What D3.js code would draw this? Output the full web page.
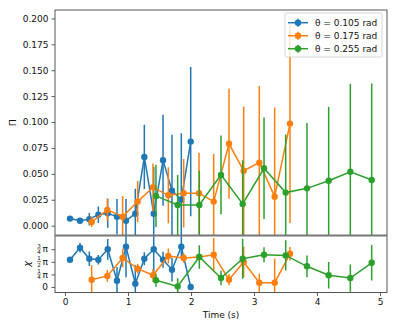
<!DOCTYPE html>
<html>
<head>
<meta charset="utf-8">
<script src="https://cdn.jsdelivr.net/npm/d3@7"></script>
<style>
  body { margin: 0; background: #fff; }
  svg text { font-family: "DejaVu Sans", sans-serif; }
</style>
</head>
<body>
<div id="chart"></div>
<script>
const labels = ["θ = 0.105 rad", "θ = 0.175 rad", "θ = 0.255 rad"];
const colors = ["#1f77b4", "#ff7f0e", "#2ca02c"];

// theta = 0.105
const timeA = [0.079, 0.238, 0.386, 0.529, 0.678, 0.825, 0.968, 1.116, 1.259, 1.408, 1.556, 1.698, 1.846, 1.995];
const piA = [0.0068, 0.0048, 0.0062, 0.0106, 0.012, 0.0087, 0.0048, 0.0116, 0.0663, 0.0116, 0.0631, 0.0338, 0.0251, 0.0811];
const piErrA = [0.001, 0.001, 0.006, 0.008, 0.014, 0.017, 0.021, 0.024, 0.031, 0.045, 0.044, 0.054, 0.064, 0.072];
const chiA = [1.70, 2.45, 1.76, 1.70, 2.35, 0.39, 2.51, 0.21, 1.76, 2.35, 1.70, 1.08, 2.51, 0.0];
const chiErrA = [0.05, 0.3, 0.45, 0.3, 0.65, 0.85, 1.9, 1.15, 0.4, 1.45, 0.5, 0.74, 0.68, 0.05];

// theta = 0.175
const timeB = [0.423, 0.672, 0.915, 1.153, 1.397, 1.640, 1.884, 2.127, 2.36, 2.603, 2.836, 3.084, 3.328, 3.571];
const piB = [0.0036, 0.0152, 0.0087, 0.0232, 0.037, 0.0293, 0.0313, 0.0313, 0.0232, 0.079, 0.053, 0.0608, 0.028, 0.0985];
const piErrB = [0.005, 0.011, 0.02, 0.02, 0.023, 0.027, 0.033, 0.039, 0.046, 0.053, 0.062, 0.074, 0.086, 0.096];
const chiB = [0.455, 0.69, 1.81, 1.14, 0.73, 1.93, 1.81, 1.87, 2.01, 0.455, 1.56, 0.27, 0.27, 2.07];
const chiErrB = [0.9, 0.37, 0.58, 0.3, 0.4, 0.47, 0.3, 0.15, 1.04, 0.35, 0.95, 0.56, 1.5, 0.42];

// theta = 0.255
const timeC = [1.444, 1.788, 2.132, 2.476, 2.82, 3.159, 3.503, 3.841, 4.185, 4.529, 4.868];
const piC = [0.0287, 0.02, 0.02, 0.049, 0.021, 0.0554, 0.0319, 0.036, 0.0434, 0.052, 0.0441];
const piErrC = [0.03, 0.029, 0.033, 0.038, 0.042, 0.049, 0.056, 0.063, 0.071, 0.085, 0.093];
const chiC = [0.42, 0.04, 1.87, 0.56, 1.76, 2.01, 1.97, 1.29, 0.73, 0.56, 1.51];
const chiErrC = [0.4, 0.5, 0.73, 0.45, 1.25, 0.47, 0.94, 0.68, 0.83, 0.85, 1.11];

const xTicks = [0, 1, 2, 3, 4, 5];
const piTicks = [0, 0.025, 0.05, 0.075, 0.1, 0.125, 0.15, 0.175, 0.2];
const chiTicks = [
  { v: 0, num: null, den: null },
  { v: Math.PI / 4, num: "1", den: "4" },
  { v: Math.PI / 2, num: "1", den: "2" },
  { v: 3 * Math.PI / 4, num: "3", den: "4" }
];

const series = [
  { t: timeA, p: piA, pe: piErrA, c: chiA, ce: chiErrA },
  { t: timeB, p: piB, pe: piErrB, c: chiB, ce: chiErrB },
  { t: timeC, p: piC, pe: piErrC, c: chiC, ce: chiErrC }
];

const W = 397, H = 331;
const mLeft = 55, mRight = 387, mTop = 10, mMid = 235.5, mBottom = 292.5;

const svg = d3.select("#chart").append("svg")
  .attr("width", W).attr("height", H);

const x = d3.scaleLinear().domain([-0.159, 5.111]).range([mLeft, mRight]);
const yTop = d3.scaleLinear().domain([-0.0095, 0.2081]).range([mMid, mTop]);
const yBot = d3.scaleLinear().domain([-0.343, 3.211]).range([mBottom, mMid]);

const defs = svg.append("defs");
defs.append("clipPath").attr("id", "clipTop").append("rect")
  .attr("x", mLeft).attr("y", mTop).attr("width", mRight - mLeft).attr("height", mMid - mTop);
defs.append("clipPath").attr("id", "clipBot").append("rect")
  .attr("x", mLeft).attr("y", mMid).attr("width", mRight - mLeft).attr("height", mBottom - mMid);

function drawPanel(g, y, key, errKey) {
  series.forEach((s, i) => {
    const pts = s.t.map((t, j) => ({ t: t, v: s[key][j], e: s[errKey][j] }));
    const col = colors[i];
    g.selectAll(null).data(pts).join("line")
      .attr("x1", d => x(d.t)).attr("x2", d => x(d.t))
      .attr("y1", d => y(d.v - d.e)).attr("y2", d => y(d.v + d.e))
      .attr("stroke", col).attr("stroke-width", 1.5);
    g.append("path").datum(pts)
      .attr("d", d3.line().x(d => x(d.t)).y(d => y(d.v)))
      .attr("fill", "none").attr("stroke", col).attr("stroke-width", 1.5);
    g.selectAll(null).data(pts).join("circle")
      .attr("cx", d => x(d.t)).attr("cy", d => y(d.v))
      .attr("r", 3.2).attr("fill", col);
  });
}

const gTop = svg.append("g").attr("clip-path", "url(#clipTop)");
drawPanel(gTop, yTop, "p", "pe");
const gBot = svg.append("g").attr("clip-path", "url(#clipBot)");
drawPanel(gBot, yBot, "c", "ce");

// axes
const axTop = svg.append("g").attr("transform", `translate(${mLeft},0)`)
  .call(d3.axisLeft(yTop).tickValues(piTicks).tickFormat(d3.format(".3f")).tickSize(3.5).tickPadding(3));
const axBot = svg.append("g").attr("transform", `translate(${mLeft},0)`)
  .call(d3.axisLeft(yBot).tickValues(chiTicks.map(d => d.v)).tickFormat("").tickSize(3.5));
const axX = svg.append("g").attr("transform", `translate(0,${mBottom})`)
  .call(d3.axisBottom(x).tickValues(xTicks).tickFormat(d3.format("d")).tickSize(3.5).tickPadding(3));

[axTop, axBot, axX].forEach(a => {
  a.select(".domain").remove();
  a.selectAll(".tick line").attr("stroke", "#333").attr("stroke-width", 0.8);
  a.selectAll(".tick text").attr("font-size", 9).attr("fill", "#111")
    .attr("font-family", "DejaVu Sans, sans-serif");
});

// fraction labels on chi axis
const fr = svg.append("g").attr("fill", "#111");
chiTicks.forEach(tk => {
  const yy = yBot(tk.v);
  if (tk.num === null) {
    fr.append("text").attr("x", 48).attr("y", yy + 3.2)
      .attr("text-anchor", "end").attr("font-size", 9).text("0");
  } else {
    fr.append("text").attr("x", 48).attr("y", yy + 3.2)
      .attr("text-anchor", "end").attr("font-size", 9).text("π");
    fr.append("text").attr("x", 39).attr("y", yy - 1.5)
      .attr("text-anchor", "middle").attr("font-size", 5.5).text(tk.num);
    fr.append("text").attr("x", 39).attr("y", yy + 5)
      .attr("text-anchor", "middle").attr("font-size", 5.5).text(tk.den);
    fr.append("line").attr("x1", 37).attr("x2", 41)
      .attr("y1", yy - 0.3).attr("y2", yy - 0.3)
      .attr("stroke", "#111").attr("stroke-width", 0.5);
  }
});

// frames
svg.append("rect").attr("x", mLeft).attr("y", mTop)
  .attr("width", mRight - mLeft).attr("height", mBottom - mTop)
  .attr("fill", "none").attr("stroke", "#444").attr("stroke-width", 0.9);
svg.append("line").attr("x1", mLeft).attr("x2", mRight)
  .attr("y1", mMid).attr("y2", mMid)
  .attr("stroke", "#777").attr("stroke-width", 2);

// axis labels
svg.append("text").attr("transform", `translate(16,${(mTop + mMid) / 2}) rotate(-90)`)
  .attr("text-anchor", "middle").attr("font-size", 9.5).attr("fill", "#111").text("Π");
svg.append("text").attr("transform", `translate(30,${(mMid + mBottom) / 2}) rotate(-90)`)
  .attr("text-anchor", "middle").attr("font-size", 9.5).attr("font-style", "italic")
  .attr("fill", "#111").text("χ");
svg.append("text").attr("x", (mLeft + mRight) / 2).attr("y", 318)
  .attr("text-anchor", "middle").attr("font-size", 9).attr("fill", "#111").text("Time (s)");

// legend
const lg = svg.append("g");
lg.append("rect").attr("x", 285).attr("y", 13).attr("width", 97).attr("height", 44)
  .attr("rx", 2).attr("fill", "#fff").attr("fill-opacity", 0.8)
  .attr("stroke", "#ccc").attr("stroke-width", 0.8);
labels.forEach((lab, i) => {
  const yy = 22.7 + i * 13;
  const col = colors[i];
  lg.append("line").attr("x1", 288).attr("x2", 308).attr("y1", yy).attr("y2", yy)
    .attr("stroke", col).attr("stroke-width", 1.5);
  lg.append("line").attr("x1", 298).attr("x2", 298).attr("y1", yy - 4).attr("y2", yy + 4)
    .attr("stroke", col).attr("stroke-width", 1.5);
  lg.append("circle").attr("cx", 298).attr("cy", yy).attr("r", 3.2).attr("fill", col);
  lg.append("text").attr("x", 315).attr("y", yy + 3.2).attr("font-size", 9)
    .attr("fill", "#111").text(lab);
});
</script>
</body>
</html>
